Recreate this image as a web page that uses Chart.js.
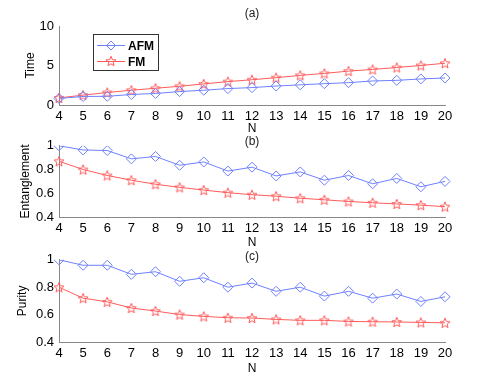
<!DOCTYPE html>
<html>
<head>
<meta charset="utf-8">
<script src="https://cdn.jsdelivr.net/npm/chart.js@4.4.1/dist/chart.umd.min.js"></script>
<style>
  html, body { margin: 0; padding: 0; background: #fff; }
  #wrap { position: relative; width: 491px; height: 382px; overflow: hidden; }
  .panel { position: absolute; left: 0; width: 491px; }
  .panel canvas { display: block; }
</style>
</head>
<body>
<div id="wrap">
  <div class="panel" id="pa" style="top:0px;height:136px"><canvas id="chartA"></canvas></div>
  <div class="panel" id="pb" style="top:136px;height:114px"><canvas id="chartB"></canvas></div>
  <div class="panel" id="pc" style="top:250px;height:132px"><canvas id="chartC"></canvas></div>
</div>
<script>
// N values (x axis)
const nLabels = [4, 5, 6, 7, 8, 9, 10, 11, 12, 13, 14, 15, 16, 17, 18, 19, 20];

// (a) Time
const timeAFM = [0.83, 1.08, 1.1, 1.33, 1.46, 1.7, 1.87, 2.08, 2.2, 2.4, 2.55, 2.7, 2.83, 3.04, 3.12, 3.3, 3.42];
const timeFM  = [0.9, 1.25, 1.58, 1.87, 2.12, 2.37, 2.67, 2.96, 3.2, 3.46, 3.75, 4.0, 4.29, 4.5, 4.75, 5.0, 5.29];

// (b) Entanglement
const entAFM = [1.0, 0.965, 0.96, 0.89, 0.91, 0.836, 0.864, 0.787, 0.82, 0.746, 0.78, 0.71, 0.75, 0.68, 0.725, 0.655, 0.70];
const entFM  = [0.87, 0.8, 0.75, 0.71, 0.676, 0.65, 0.627, 0.605, 0.588, 0.575, 0.558, 0.545, 0.531, 0.52, 0.51, 0.5, 0.487];

// (c) Purity
const purAFM = [1.0, 0.96, 0.96, 0.894, 0.913, 0.843, 0.869, 0.8, 0.83, 0.77, 0.8, 0.735, 0.77, 0.72, 0.75, 0.696, 0.73];
const purFM  = [0.8, 0.72, 0.693, 0.648, 0.626, 0.6, 0.587, 0.577, 0.575, 0.565, 0.558, 0.558, 0.55, 0.548, 0.546, 0.543, 0.54];

const blueCol = '#6e80ff';
const redCol = '#ff5a5a';
const axisCol = '#888888';
const fontFam = '"Liberation Sans", Arial, Helvetica, sans-serif';

// star marker drawn on small canvas
function makeStar(color) {
    const c = document.createElement('canvas');
    c.width = 12; c.height = 12;
    const g = c.getContext('2d');
    g.strokeStyle = color;
    g.lineWidth = 1;
    g.beginPath();
    for (let i = 0; i < 10; i++) {
        const r = (i % 2 === 0) ? 5.2 : 2.3;
        const a = -Math.PI / 2 + i * Math.PI / 5;
        const px = 6 + r * Math.cos(a);
        const py = 6.5 + r * Math.sin(a);
        if (i === 0) g.moveTo(px, py); else g.lineTo(px, py);
    }
    g.closePath();
    g.stroke();
    return c;
}
const starImg = makeStar(redCol);

// panel label like "(a)"
const panelLabel = {
    id: 'panelLabel',
    afterDraw(chart, args, opts) {
        const ctx = chart.ctx;
        ctx.save();
        ctx.font = '12px ' + fontFam;
        ctx.fillStyle = '#222';
        ctx.textAlign = 'center';
        ctx.textBaseline = 'middle';
        ctx.fillText(opts.text, 252, opts.y);
        ctx.restore();
    }
};

// legend box inside panel (a)
const boxLegend = {
    id: 'boxLegend',
    afterDraw(chart, args, opts) {
        if (!opts.show) return;
        const ctx = chart.ctx;
        ctx.save();
        ctx.fillStyle = '#fff';
        ctx.fillRect(93.5, 34.5, 65, 36);
        ctx.strokeStyle = '#333';
        ctx.lineWidth = 1;
        ctx.strokeRect(93.5, 34.5, 65, 36);
        const rows = [
            { label: chart.data.datasets[0].label, y: 45.5, col: blueCol, diamond: true },
            { label: chart.data.datasets[1].label, y: 61.5, col: redCol, diamond: false }
        ];
        rows.forEach(r => {
            ctx.strokeStyle = r.col;
            ctx.beginPath();
            ctx.moveTo(97, r.y); ctx.lineTo(125, r.y);
            ctx.stroke();
            if (r.diamond) {
                ctx.beginPath();
                ctx.moveTo(111, r.y - 4.5); ctx.lineTo(115.5, r.y);
                ctx.lineTo(111, r.y + 4.5); ctx.lineTo(106.5, r.y);
                ctx.closePath();
                ctx.stroke();
            } else {
                ctx.drawImage(starImg, 105, r.y - 6.5);
            }
            ctx.fillStyle = '#000';
            ctx.font = 'bold 12px ' + fontFam;
            ctx.textBaseline = 'middle';
            ctx.textAlign = 'left';
            ctx.fillText(r.label, 128, r.y + 1);
        });
        ctx.restore();
    }
};

function makePanel(id, afm, fm, yTitle, yMin, yMax, step, padTop, padLeft, xHeight, padBottom, labelText, labelY, showLegend) {
    const ctx = document.getElementById(id).getContext('2d');
    return new Chart(ctx, {
        type: 'line',
        data: {
            labels: nLabels,
            datasets: [{
                label: 'AFM',
                data: afm,
                borderColor: blueCol,
                backgroundColor: 'rgba(0,0,0,0)',
                borderWidth: 1,
                pointStyle: 'rectRot',
                pointRadius: 5,
                pointBorderWidth: 1,
                pointBorderColor: blueCol,
                pointBackgroundColor: 'rgba(0,0,0,0)',
                tension: 0
            }, {
                label: 'FM',
                data: fm,
                borderColor: redCol,
                backgroundColor: 'rgba(0,0,0,0)',
                borderWidth: 1,
                pointStyle: starImg,
                pointRadius: 5,
                tension: 0
            }]
        },
        options: {
            responsive: true,
            maintainAspectRatio: false,
            animation: false,
            layout: { padding: { top: padTop, right: 46, bottom: padBottom, left: padLeft } },
            plugins: {
                legend: { display: false },
                tooltip: { enabled: false },
                panelLabel: { text: labelText, y: labelY },
                boxLegend: { show: showLegend }
            },
            scales: {
                x: {
                    type: 'category',
                    offset: false,
                    grid: { display: false, drawTicks: true, tickLength: 3 },
                    border: { color: axisCol, width: 1 },
                    ticks: {
                        color: '#000', padding: 1, maxRotation: 0, autoSkip: false,
                        font: { family: fontFam, size: 13 }
                    },
                    title: {
                        display: true, text: 'N', color: '#000',
                        font: { family: fontFam, size: 12 }, padding: 0
                    },
                    afterFit(scale) { scale.height = xHeight; }
                },
                y: {
                    min: yMin, max: yMax,
                    grid: { display: false, drawTicks: true, tickLength: 3 },
                    border: { color: axisCol, width: 1 },
                    ticks: {
                        stepSize: step, color: '#000', padding: 2,
                        font: { family: fontFam, size: 13 },
                        callback: v => String(Math.round(v * 10) / 10)
                    },
                    title: {
                        display: true, text: yTitle, color: '#000',
                        font: { family: fontFam, size: 12 }, padding: 0
                    },
                    afterFit(scale) { scale.width = 59 - padLeft; }
                }
            }
        },
        plugins: [panelLabel, boxLegend]
    });
}

makePanel('chartA', timeAFM, timeFM, 'Time', 0, 10, 5, 26, 23, 31, 0, '(a)', 14, true);
makePanel('chartB', entAFM, entFM, 'Entanglement', 0.4, 1, 0.2, 9, 18, 33, 0, '(b)', 6, false);
makePanel('chartC', purAFM, purFM, 'Purity', 0.4, 1, 0.2, 5, 15, 34, 6, '(c)', 7, false);
</script>
</body>
</html>
